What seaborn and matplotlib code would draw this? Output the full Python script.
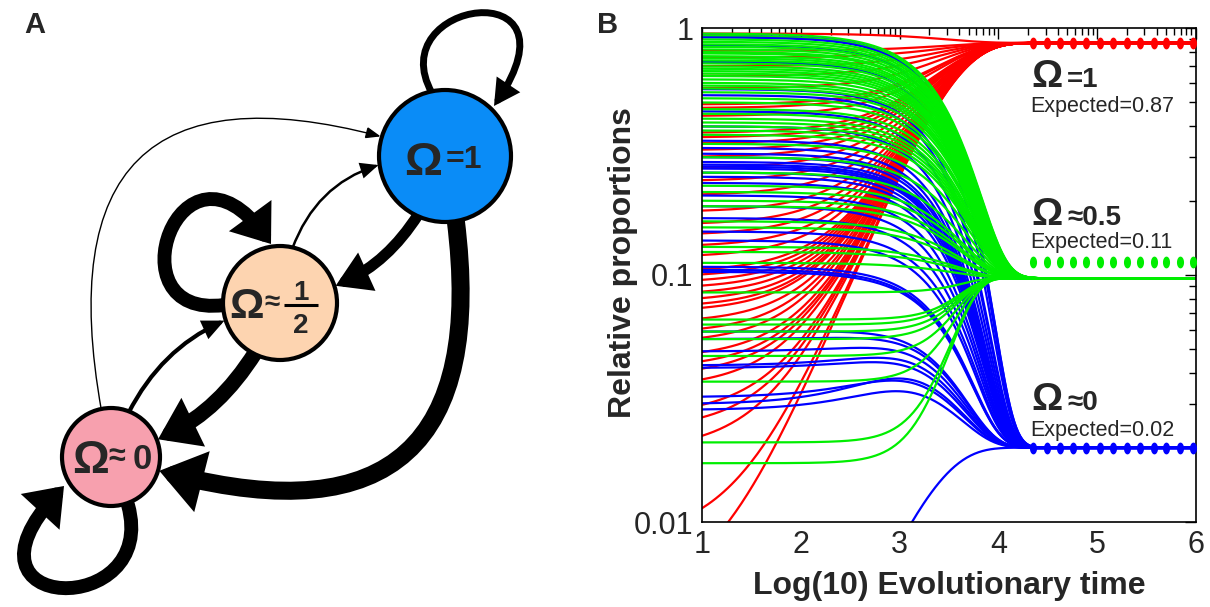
import numpy as np
import pandas as pd
import seaborn as sns
import matplotlib.pyplot as plt
from matplotlib.patches import Circle, FancyArrowPatch, ArrowStyle
from matplotlib.path import Path
from matplotlib.ticker import FixedLocator, LogLocator, NullFormatter

# ---------------- panel B: trajectories ----------------
# proportions at log10(time) = 1, read off the left edge of the plot
red_start = [0.95, 0.81, 0.76, 0.70, 0.64, 0.57, 0.49, 0.474, 0.44, 0.376, 0.36,
             0.34, 0.32, 0.30, 0.27, 0.24, 0.21, 0.18, 0.16, 0.145, 0.13, 0.118,
             0.103, 0.098, 0.093, 0.088, 0.083, 0.078, 0.074, 0.071, 0.064, 0.058,
             0.053, 0.046, 0.042, 0.039, 0.035, 0.027, 0.0237, 0.0195, 0.0085, 0.0047]
green_start = [0.95, 0.93, 0.90, 0.88, 0.86, 0.84, 0.82, 0.80, 0.79, 0.77, 0.755,
               0.74, 0.72, 0.70, 0.685, 0.67, 0.655, 0.64, 0.62, 0.60, 0.585, 0.57,
               0.55, 0.52, 0.50, 0.47, 0.45, 0.43, 0.415, 0.40, 0.385, 0.37, 0.34,
               0.30, 0.26, 0.23, 0.217, 0.20, 0.19, 0.165, 0.156, 0.13, 0.124, 0.112,
               0.085, 0.066, 0.063, 0.059, 0.055, 0.047, 0.037, 0.021, 0.0173]
blue_start = [0.93, 0.917, 0.853, 0.73, 0.566, 0.535, 0.46, 0.40, 0.35, 0.327, 0.31,
              0.30, 0.287, 0.28, 0.275, 0.27, 0.26, 0.25, 0.236, 0.21, 0.19, 0.17,
              0.15, 0.138, 0.108, 0.105, 0.103,
              0.059, 0.055, 0.049, 0.043, 0.042, 0.032, 0.030, 0.0284, 0.0005]
# transient rise of the low blue lines before they drop (around log10 t = 3.3)
blue_bump = [0, 0, 0, 0, 0, 0, 0, 0, 0, 0, 0,
             0, 0, 0, 0, 0, 0, 0, 0, 0, 0, 0,
             0, 0, 0, 0, 0,
             0.006, 0.008, 0.010, 0.012, 0.010, 0.013, 0.017, 0.012, 0]

# values the lines settle on
red_end, green_end, blue_end = 0.87, 0.097, 0.02
# relaxation times (evolutionary time units) read from where the fans close
red_tau = 3000
green_tau_down, green_beta_down = 3500, 1.1
green_tau_up, green_beta_up = 4500, 2.0
blue_tau_down, blue_beta_down = 3500, 1.15
blue_tau_up = 2000
bump_tau = 700

# expected proportions (dotted lines)
expected_values = [0.87, 0.113, 0.02]
expected_x = [4.35, 4.49, 4.62, 4.76, 4.89, 5.03, 5.16, 5.30, 5.43, 5.57, 5.70, 5.84, 5.97]
omega_tags = ["=1", "≈0.5", "≈0"]
expected_tags = ["Expected=0.87", "Expected=0.11", "Expected=0.02"]

log_time = np.linspace(1, 6, 251)

# ---------------- panel A: state network ----------------
node_x = [445, 280, 111]
node_y = [156, 303, 457]
node_r = [66, 57, 49]
node_color = ["#0a8cf7", "#fdd4b0", "#f7a0ae"]
# (from, to, line width, curvature, head length, head half width)
edges = [
    (2, 0, 1.0, -0.90, 9, 3.5),
    (1, 0, 1.8, -0.45, 10, 4.5),
    (2, 1, 3.0, -0.30, 11, 5),
    (0, 1, 8.0, -0.30, 13, 8),
    (1, 2, 11.0, -0.25, 13, 9),
    (0, 2, 13.0, -0.85, 14, 10),
]
loops = [
    ([(432, 93), (380, 0), (585, -30), (494, 106)], 5.0, 11, 6),
    ([(224, 305), (110, 320), (180, 120), (271, 244)], 10.0, 12, 9),
    ([(128, 505), (160, 620), (-55, 615), (64, 486)], 10.0, 12, 9),
]

W, H = 1210, 607


def relax(start, end, tau, beta=1.0, bump=0.0):
    t = 10 ** log_time
    base = start + bump * (1 - np.exp(-t / bump_tau))
    return end + (base - end) * np.exp(-(t / tau) ** beta)


frames = []
line_color = {}
for i, s in enumerate(red_start):
    frames.append(pd.DataFrame({"x": log_time, "y": relax(s, red_end, red_tau), "line": f"r{i}"}))
    line_color[f"r{i}"] = "#ff0000"
for i, s in enumerate(blue_start):
    if s > blue_end:
        y = relax(s, blue_end, blue_tau_down, blue_beta_down, bump=blue_bump[i])
    else:
        y = relax(s, blue_end, blue_tau_up)
    frames.append(pd.DataFrame({"x": log_time, "y": y, "line": f"b{i}"}))
    line_color[f"b{i}"] = "#0000ff"
for i, s in enumerate(green_start):
    if s > green_end:
        y = relax(s, green_end, green_tau_down, green_beta_down)
    else:
        y = relax(s, green_end, green_tau_up, green_beta_up)
    frames.append(pd.DataFrame({"x": log_time, "y": y, "line": f"g{i}"}))
    line_color[f"g{i}"] = "#00ee00"
df = pd.concat(frames, ignore_index=True)

# red underneath, then blue and green interleaved
draw_order = [f"r{i}" for i in range(len(red_start))]
for i in range(max(len(green_start), len(blue_start))):
    if i < len(green_start):
        draw_order.append(f"g{i}")
    if i < len(blue_start):
        draw_order.append(f"b{i}")

sns.set_theme(style="white")
plt.rcParams["font.family"] = ["Liberation Sans", "DejaVu Sans"]

fig = plt.figure(figsize=(W / 100, H / 100), dpi=100)


def ptext(x, y, s, **kw):
    fig.text(x / W, 1 - y / H, s, **kw)


# ---- panel B ----
ax_b = fig.add_axes([702 / W, 1 - 522 / H, (1196 - 702) / W, (522 - 28) / H])
sns.lineplot(data=df, x="x", y="y", hue="line", hue_order=draw_order, palette=line_color,
             estimator=None, linewidth=1.6, legend=False, sort=False, ax=ax_b)

theta = np.linspace(0, 2 * np.pi, 40)
oval = np.column_stack([0.6 * np.cos(theta), np.sin(theta)])
exp_colors = ["#ff0000", "#00ee00", "#0000ff"]
exp_lines = ["-", "none", "-"]
for val, col, ls in zip(expected_values, exp_colors, exp_lines):
    ax_b.plot(expected_x, [val] * len(expected_x), color=col, linestyle=ls, lw=2.6,
              marker=oval, markersize=8.5, markeredgewidth=0, clip_on=False, zorder=5)

ax_b.set_xlim(1, 6)
ax_b.set_yscale("log")
ax_b.set_ylim(0.01, 1)
ax_b.set_xticks([1, 2, 3, 4, 5, 6])
ax_b.set_xticklabels(["1", "2", "3", "4", "5", "6"])
ax_b.xaxis.set_minor_locator(FixedLocator([i + np.log10(k) for i in range(1, 6) for k in range(2, 10)]))
ax_b.set_yticks([0.01, 0.1, 1])
ax_b.set_yticklabels(["0.01", "0.1", "1"])
ax_b.yaxis.set_minor_locator(LogLocator(base=10, subs=range(2, 10)))
ax_b.yaxis.set_minor_formatter(NullFormatter())
ax_b.tick_params(which="both", direction="in", top=True, right=True, width=1, color="black")
ax_b.tick_params(which="major", length=8, labelsize=22, pad=6)
ax_b.tick_params(which="minor", length=5)
for sp in ax_b.spines.values():
    sp.set_color("black")
    sp.set_linewidth(1.2)
ax_b.set_xlabel("Log(10) Evolutionary time", fontsize=23, fontweight="bold", labelpad=8)
ax_b.set_ylabel("Relative proportions", fontsize=23, fontweight="bold")
ax_b.yaxis.set_label_coords(-0.13, 0.526)

omega_y = [87, 225, 410]
tag_y = [112, 248, 436]
for oy, ty, otag, etag in zip(omega_y, tag_y, omega_tags, expected_tags):
    ptext(1031, oy, "Ω", fontsize=28, fontweight="bold", va="baseline", ha="left")
    ptext(1067, oy, otag, fontsize=20, fontweight="bold", va="baseline", ha="left")
    ptext(1030, ty, etag, fontsize=15.5, va="baseline", ha="left")

# ---- panel A ----
ax_a = fig.add_axes([0, 0, 605 / W, 1])
ax_a.set_xlim(0, 605)
ax_a.set_ylim(607, 0)
ax_a.axis("off")

circles = []
for x, y, r, c in zip(node_x, node_y, node_r, node_color):
    circ = Circle((x, y), r, facecolor=c, edgecolor="black", lw=3, zorder=3)
    ax_a.add_patch(circ)
    circles.append(circ)

for a, b, lw, rad, hl, hw in edges:
    arr = FancyArrowPatch((node_x[a], node_y[a]), (node_x[b], node_y[b]),
                          patchA=circles[a], patchB=circles[b], shrinkA=0, shrinkB=2,
                          connectionstyle=f"arc3,rad={rad}",
                          arrowstyle=ArrowStyle("-|>", head_length=hl, head_width=hw),
                          mutation_scale=1, lw=lw, color="black", joinstyle="miter", zorder=2)
    ax_a.add_patch(arr)

for pts, lw, hl, hw in loops:
    path = Path(pts, [Path.MOVETO, Path.CURVE4, Path.CURVE4, Path.CURVE4])
    arr = FancyArrowPatch(path=path, arrowstyle=ArrowStyle("-|>", head_length=hl, head_width=hw),
                          mutation_scale=1, lw=lw, color="black", joinstyle="miter", zorder=2)
    ax_a.add_patch(arr)

# node labels
ptext(404, 175, "Ω", fontsize=34, fontweight="bold", va="baseline", ha="left", zorder=5)
ptext(446, 168, "=1", fontsize=23, fontweight="bold", va="baseline", ha="left", zorder=5)
ptext(229, 318, "Ω", fontsize=31, fontweight="bold", va="baseline", ha="left", zorder=5)
ptext(264, 303, "≈", fontsize=20, fontweight="bold", va="center", ha="left", zorder=5)
ptext(301, 300, "1", fontsize=20, fontweight="bold", va="baseline", ha="center", zorder=5)
ptext(301, 333, "2", fontsize=20, fontweight="bold", va="baseline", ha="center", zorder=5)
ax_a.plot([284, 318], [305, 305], color="black", lw=2.2, solid_capstyle="butt", zorder=5)
ptext(72, 473, "Ω", fontsize=33, fontweight="bold", va="baseline", ha="left", zorder=5)
ptext(108, 457, "≈", fontsize=22, fontweight="bold", va="center", ha="left", zorder=5)
ptext(133, 469, "0", fontsize=25, fontweight="bold", va="baseline", ha="left", zorder=5)

ptext(35, 25, "A", fontsize=21, fontweight="bold", va="center", ha="center")
ptext(608, 25, "B", fontsize=21, fontweight="bold", va="center", ha="center")

fig.savefig("out.png", dpi=100)
